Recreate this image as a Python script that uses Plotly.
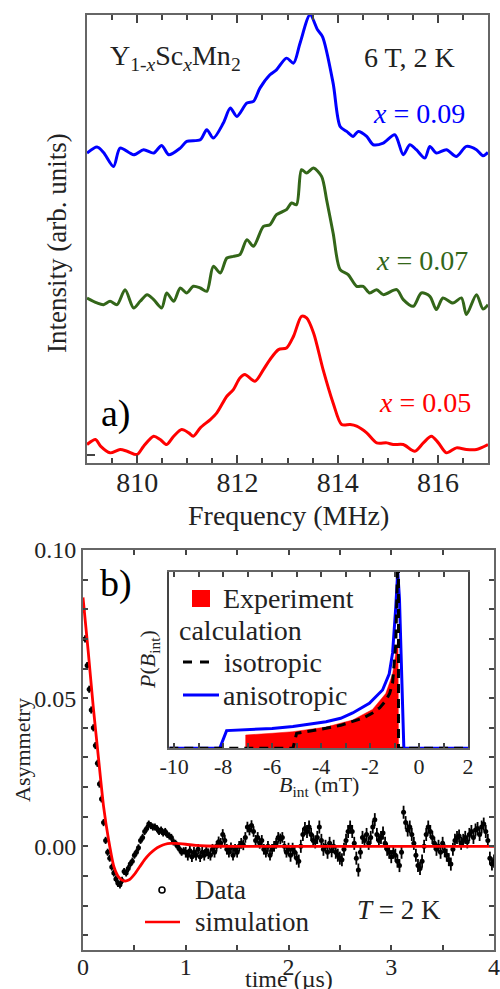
import plotly.graph_objects as go

# ---------------- Panel a) NMR spectra ----------------
freq_b = [809.00, 809.20, 809.33, 809.53, 809.66, 809.93, 810.13, 810.33, 810.49, 810.63,
          810.86, 810.99, 811.26, 811.39, 811.52, 811.72, 811.86, 811.99, 812.19, 812.32,
          812.45, 812.65, 812.78, 812.98, 813.12, 813.25, 813.45, 813.60, 813.70, 813.91,
          814.05, 814.18, 814.31, 814.41, 814.58, 814.71, 814.91, 815.14, 815.31, 815.44,
          815.57, 815.74, 815.84, 815.97, 816.17, 816.37, 816.57, 816.77, 816.90, 817.00]
int_b = [9.30, 9.48, 9.32, 8.90, 9.45, 9.25, 9.40, 9.30, 9.53, 9.25,
         9.45, 9.65, 9.70, 10.00, 9.75, 10.20, 10.65, 10.40, 10.80, 10.85,
         11.25, 11.65, 11.80, 12.15, 12.00, 12.60, 13.45, 13.00, 12.79, 11.40,
         10.10, 9.95, 9.80, 9.95, 9.80, 9.55, 9.60, 9.85, 9.25, 9.55,
         9.40, 9.15, 9.50, 9.30, 9.40, 9.20, 9.50, 9.40, 9.22, 9.32]

freq_g = [809.00, 809.20, 809.33, 809.46, 809.60, 809.76, 809.93, 810.06, 810.20, 810.33,
          810.49, 810.59, 810.73, 810.86, 810.99, 811.12, 811.26, 811.39, 811.52, 811.66,
          811.79, 811.92, 812.05, 812.19, 812.32, 812.52, 812.65, 812.78, 812.98, 813.08,
          813.18, 813.28, 813.38, 813.52, 813.68, 813.78, 813.91, 814.05, 814.21, 814.38,
          814.51, 814.64, 814.78, 814.91, 815.18, 815.31, 815.51, 815.67, 815.84, 815.97,
          816.10, 816.30, 816.47, 816.57, 816.77, 816.90, 817.00]
int_g = [4.95, 4.80, 4.75, 4.85, 4.75, 5.20, 4.65, 4.85, 5.05, 4.90,
         4.65, 5.10, 4.85, 5.25, 5.10, 5.30, 5.25, 5.15, 5.90, 5.70,
         6.15, 6.20, 6.25, 6.70, 6.50, 7.10, 7.15, 7.45, 7.60, 7.80,
         7.75, 8.80, 8.70, 8.85, 8.60, 7.90, 6.90, 5.80, 5.65, 5.30,
         5.30, 5.10, 5.20, 5.05, 5.20, 4.90, 4.70, 5.10, 5.00, 4.60,
         4.95, 4.80, 4.95, 4.45, 5.05, 4.62, 4.75]

freq_r = [809.00, 809.17, 809.27, 809.46, 809.66, 809.80, 810.00, 810.13, 810.33, 810.46,
          810.59, 810.73, 810.89, 811.03, 811.12, 811.26, 811.46, 811.59, 811.79, 811.92,
          812.05, 812.15, 812.35, 812.52, 812.65, 812.82, 812.98, 813.12, 813.28, 813.38,
          813.52, 813.71, 813.91, 814.08, 814.25, 814.38, 814.58, 814.78, 814.98, 815.11,
          815.31, 815.54, 815.71, 815.87, 816.01, 816.17, 816.37, 816.57, 816.77, 817.00]
int_r = [0.55, 0.70, 0.50, 0.30, 0.40, 0.35, 0.25, 0.50, 0.80, 0.70,
         0.55, 0.80, 1.00, 0.90, 0.80, 1.05, 1.30, 1.50, 2.00, 2.20,
         2.55, 2.65, 2.45, 2.80, 3.10, 3.40, 3.45, 3.80, 4.40, 4.35,
         3.90, 2.80, 1.80, 1.15, 1.15, 1.10, 0.90, 0.60, 0.60, 0.55,
         0.55, 0.35, 0.60, 0.80, 0.60, 0.30, 0.45, 0.40, 0.40, 0.55]

freq_ticks = [810, 812, 814, 816]

# ---------------- Panel b) muSR asymmetry ----------------
time_us = [round(0.02 * i, 2) for i in range(201)]
asym = [0.080, 0.070, 0.061, 0.053, 0.046, 0.040, 0.034, 0.028, 0.021, 0.016,
        0.008, 0.002, -0.002, -0.004, -0.007, -0.009, -0.011, -0.0125, -0.013, -0.0115,
        -0.0085, -0.009, -0.0075, -0.006, -0.005, -0.003, -0.002, -0.0005, 0.002, 0.003,
        0.005, 0.006, 0.0075, 0.007, 0.0065, 0.0065, 0.006, 0.005, 0.0055, 0.0045,
        0.005, 0.004, 0.0035, 0.003, 0.0015, 0.001, 0.000, -0.001, -0.002, -0.0015,
        -0.002, -0.003, -0.0015, -0.0035, -0.002, -0.003, -0.001, -0.0035, -0.002, -0.003,
        -0.0015, -0.0025, -0.003, -0.001, -0.002, 0.000, 0.0015, 0.001, 0.004, 0.002,
        -0.001, -0.002, -0.0005, -0.003, -0.001, -0.002, 0.000, 0.001, 0.0005, 0.003,
        0.0065, 0.0055, 0.007, 0.005, 0.002, 0.003, 0.001, 0.002, -0.001, -0.002,
        0.000, -0.003, -0.001, 0.000, 0.001, 0.003, 0.0025, 0.003, 0.000, -0.002,
        -0.001, -0.003, -0.001, -0.002, -0.004, -0.005, 0.000, 0.004, 0.006, 0.005,
        0.0065, 0.004, 0.002, 0.0015, 0.003, 0.0065, 0.002, -0.001, 0.000, -0.002,
        0.001, -0.0015, 0.000, -0.002, -0.003, -0.004, -0.0045, -0.001, 0.002, 0.005,
        0.0065, 0.005, 0.001, -0.004, -0.008, -0.002, 0.003, 0.002, 0.004, 0.001,
        0.003, 0.0065, 0.009, 0.004, 0.002, 0.003, 0.0045, 0.001, -0.001, -0.002,
        -0.0035, -0.002, -0.003, -0.005, -0.0065, -0.002, 0.0115, 0.008, 0.0055, 0.0065,
        0.004, 0.001, -0.003, -0.0065, -0.0075, -0.005, 0.000, 0.004, 0.0065, 0.005,
        0.003, 0.001, -0.001, 0.000, -0.002, 0.001, -0.0015, -0.003, -0.0045, -0.006,
        -0.001, 0.002, 0.003, 0.0035, 0.001, 0.002, 0.003, 0.0015, 0.004, 0.005,
        0.003, 0.0055, 0.006, 0.004, 0.0065, 0.0075, 0.005, 0.002, -0.004, -0.006,
        -0.005]
asym_err = [0.0012] * 50 + [0.0018] * 50 + [0.0022] * 101

sim_t = [0.0, 0.05, 0.10, 0.15, 0.20, 0.25, 0.30, 0.35, 0.40, 0.45, 0.50, 0.55, 0.60,
         0.65, 0.70, 0.75, 0.80, 0.85, 0.90, 1.00, 1.10, 1.20, 1.50, 2.00, 3.00, 4.00]
sim_a = [0.084, 0.066, 0.047, 0.030, 0.0135, 0.002, -0.0068, -0.0105, -0.0117, -0.0113,
         -0.0095, -0.0070, -0.0045, -0.0025, -0.001, 0.000, 0.0007, 0.001, 0.001, 0.0007,
         0.0003, 0.0001, 0.0, 0.0, 0.0, 0.0]

# ---------------- Inset: field distribution ----------------
exp_B = [-7.08, -7.08, -6.0, -5.15, -3.8, -2.71, -1.9, -1.36, -1.08, -0.95, -0.86, -0.84]
exp_P = [0.0, 0.075, 0.085, 0.094, 0.12, 0.16, 0.22, 0.31, 0.42, 0.55, 0.62, 0.0]

aniso_B = [-10.2, -8.14, -7.86, -7.05, -6.0, -5.15, -4.5, -3.8, -3.2, -2.71, -2.03, -1.49,
           -1.22, -1.08, -0.95, -0.87, -0.80, -0.62, 2.0]
aniso_P = [0.0, 0.0, 0.10, 0.104, 0.112, 0.123, 0.135, 0.15, 0.17, 0.20, 0.255, 0.33,
           0.42, 0.54, 0.80, 1.0, 0.85, 0.0, 0.0]

iso_B = [-10.2, -5.15, -5.0, -4.5, -3.8, -3.2, -2.71, -2.3, -1.9, -1.6, -1.36, -1.2,
         -1.08, -0.95, -0.88, -0.84, -0.84, 2.0]
iso_P = [0.0, 0.0, 0.085, 0.095, 0.113, 0.13, 0.15, 0.17, 0.20, 0.23, 0.27, 0.31,
         0.37, 0.59, 1.0, 1.0, 0.0, 0.0]

inset_ticks = [-10, -8, -6, -4, -2, 0, 2]

SERIF = "Liberation Serif"
TXT = "#222222"
FRAME = "#666666"
BLUE = "#0000ff"
GREEN = "#336619"
RED = "#ff0000"

fig = go.Figure()

for f, v, c in [(freq_b, int_b, BLUE), (freq_g, int_g, GREEN), (freq_r, int_r, RED)]:
    fig.add_trace(go.Scatter(x=f, y=v, mode="lines", line=dict(color=c, width=3, shape="spline", smoothing=0.8),
                             xaxis="x", yaxis="y"))

fig.add_trace(go.Scatter(x=time_us, y=asym, mode="markers",
                         marker=dict(symbol="circle", size=5, color="black"),
                         error_y=dict(type="data", array=asym_err, color="black", thickness=1.8, width=0),
                         xaxis="x2", yaxis="y2"))
fig.add_trace(go.Scatter(x=sim_t, y=sim_a, mode="lines", line=dict(color=RED, width=2.8, shape="spline", smoothing=0.6),
                         xaxis="x2", yaxis="y2"))

fig.add_trace(go.Scatter(x=exp_B, y=exp_P, mode="lines", fill="toself", fillcolor=RED,
                         line=dict(color=RED, width=0.5), xaxis="x3", yaxis="y3"))
fig.add_trace(go.Scatter(x=aniso_B, y=aniso_P, mode="lines", line=dict(color=BLUE, width=3),
                         xaxis="x3", yaxis="y3"))
fig.add_trace(go.Scatter(x=iso_B, y=iso_P, mode="lines", line=dict(color="black", width=3, dash="9px,6px"),
                         xaxis="x3", yaxis="y3"))

axis_common = dict(showgrid=False, zeroline=False, showline=True, linecolor=FRAME, linewidth=2,
                   ticks="inside", tickcolor="#444444", tickwidth=1.5, automargin=False)
minor_common = dict(ticks="inside", tickcolor="#444444", tickwidth=1.5)

fig.update_layout(
    width=500, height=989, autosize=False,
    margin=dict(l=0, r=0, t=0, b=0, pad=0, autoexpand=False),
    paper_bgcolor="white", plot_bgcolor="white",
    showlegend=False,
    font=dict(family=SERIF, color=TXT),
    xaxis=dict(**axis_common, domain=[0.174, 0.976], anchor="y", range=[809, 817],
               tickvals=freq_ticks, ticklen=8, mirror="allticks", ticklabelstandoff=-6,
               minor=dict(**minor_common, tick0=809, dtick=0.5, ticklen=5),
               tickfont=dict(family=SERIF, size=28, color=TXT)),
    yaxis=dict(**axis_common, domain=[0.532, 0.985], anchor="x", range=[0, 13.45],
               tickvals=[0.25], ticklen=8, showticklabels=False, mirror=True),
    xaxis2=dict(**axis_common, domain=[0.166, 0.988], anchor="y2", range=[0, 4],
                tickvals=[0, 1, 2, 3, 4], ticklen=5, mirror="allticks", ticklabelstandoff=-6,
                minor=dict(**minor_common, tick0=0, dtick=0.5, ticklen=5),
                tickfont=dict(family=SERIF, size=24, color=TXT)),
    yaxis2=dict(**axis_common, domain=[0.0394, 0.4439], anchor="x2", range=[-0.035, 0.10],
                tickvals=[0.0, 0.05, 0.10], ticktext=["0.00", "0.05", "0.10"], ticklen=5, mirror="allticks",
                minor=dict(**minor_common, tick0=0, dtick=0.01, ticklen=5),
                tickfont=dict(family=SERIF, size=24, color=TXT)),
    xaxis3=dict(**axis_common, domain=[0.3386, 0.936], anchor="y3", range=[-10.2, 2],
                tickvals=inset_ticks, ticktext=["-10", "-8", "-6", "-4", "-2", "0", "2"],
                ticklen=5, mirror="allticks", ticklabelstandoff=-3,
                minor=dict(**minor_common, tick0=0, dtick=1, ticklen=5),
                tickfont=dict(family=SERIF, size=22, color=TXT)),
    yaxis3=dict(showgrid=False, zeroline=False, showline=True, linecolor="#444444", linewidth=2,
                domain=[0.2434, 0.4219], anchor="x3", range=[0, 1.0], ticks="",
                showticklabels=False, mirror=True, automargin=False),
)

W, H = 500.0, 989.0
def px(x):
    return x / W
def py(y):
    return 1 - y / H

anns = [
    (175, 58, "Y<sub>1-<i>x</i></sub>Sc<sub><i>x</i></sub>Mn<sub>2</sub>", 28, TXT, "center"),
    (409, 58, "6 T, 2 K", 28, TXT, "center"),
    (419, 113, "<i>x</i> = 0.09", 28, BLUE, "center"),
    (422, 260, "<i>x</i> = 0.07", 28, GREEN, "center"),
    (425, 402, "<i>x</i> = 0.05", 28, RED, "center"),
    (116, 413, "a)", 38, "black", "center"),
    (288, 515, "Frequency (MHz)", 28, TXT, "center"),
    (116, 583, "b)", 38, "black", "center"),
    (289, 979, "time (µs)", 24, TXT, "center"),
    (193, 890, "Data", 27, TXT, "left"),
    (193, 922, "simulation", 27, TXT, "left"),
    (399, 910, "<i>T</i> = 2 K", 27, TXT, "center"),
    (221, 598, "Experiment", 28, TXT, "left"),
    (177, 630, "calculation", 28, TXT, "left"),
    (222, 662, "isotropic", 28, TXT, "left"),
    (221, 695, "anisotropic", 28, TXT, "left"),
    (319, 786, "<i>B</i><sub>int</sub> (mT)", 22, TXT, "center"),
]
for x, y, t, s, c, xa in anns:
    fig.add_annotation(x=px(x), y=py(y), xref="paper", yref="paper", text=t, showarrow=False,
                       xanchor=xa, yanchor="middle", font=dict(family=SERIF, size=s, color=c))

for x, y, t, s in [(57, 243, "Intensity (arb. units)", 27),
                   (22, 750, "Asymmetry", 22),
                   (149, 660, "<i>P</i>(<i>B</i><sub>int</sub>)", 22)]:
    fig.add_annotation(x=px(x), y=py(y), xref="paper", yref="paper", text=t, showarrow=False,
                       textangle=-90, xanchor="center", yanchor="middle",
                       font=dict(family=SERIF, size=s, color=TXT))

fig.add_shape(type="rect", xref="paper", yref="paper", x0=px(192), x1=px(210), y0=py(607), y1=py(590),
              fillcolor=RED, line=dict(width=0))
fig.add_shape(type="line", xref="paper", yref="paper", x0=px(183), x1=px(213), y0=py(662), y1=py(662),
              line=dict(color="black", width=3, dash="9px,8px"))
fig.add_shape(type="line", xref="paper", yref="paper", x0=px(183), x1=px(219), y0=py(695), y1=py(695),
              line=dict(color=BLUE, width=3))
fig.add_shape(type="circle", xref="paper", yref="paper", x0=px(159), x1=px(165), y0=py(893), y1=py(887),
              line=dict(color="black", width=1.6))
fig.add_shape(type="line", xref="paper", yref="paper", x0=px(145), x1=px(180), y0=py(922), y1=py(922),
              line=dict(color=RED, width=2.6))

fig.write_html("out.html", config={"displayModeBar": False},
               post_script="document.body.style.margin='0px';document.body.style.padding='0px';")
